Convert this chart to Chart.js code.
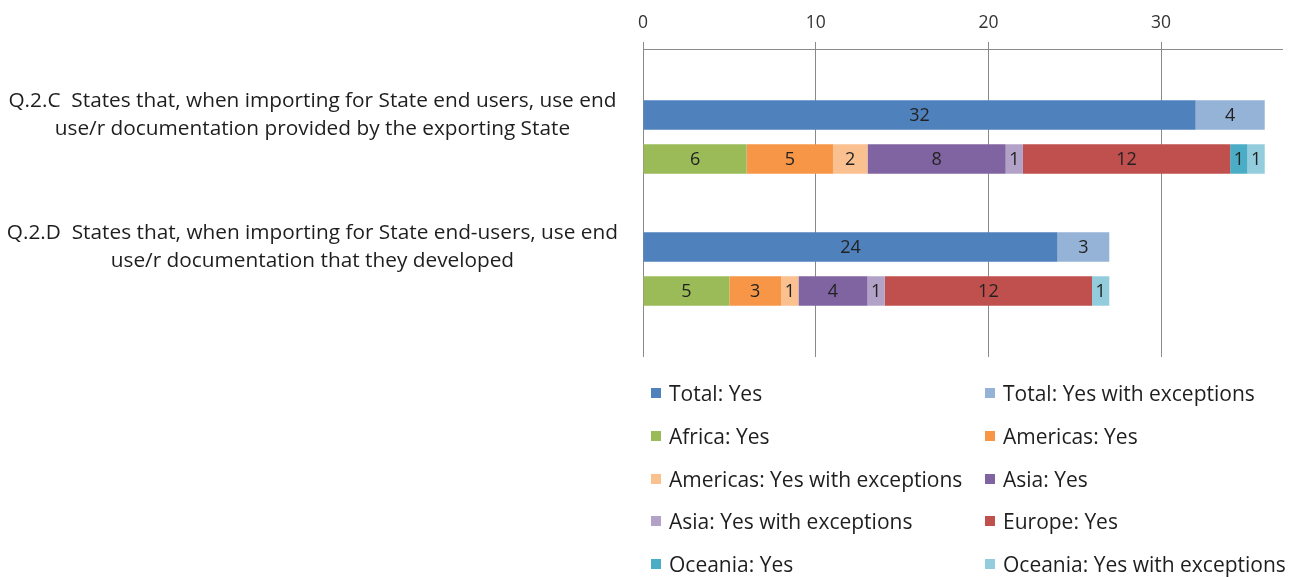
<!DOCTYPE html>
<html>
<head>
<meta charset="utf-8">
<script src="https://cdn.jsdelivr.net/npm/chart.js@4.4.1/dist/chart.umd.min.js"></script>
<style>
  html, body { margin: 0; padding: 0; background: #fff; }
  #wrap { position: relative; width: 1304px; height: 577px; overflow: hidden; }
  #chart { position: absolute; left: 0; top: 0; }
  #legend {
    position: absolute; left: 651px; top: 372px;
    display: grid; grid-template-columns: 334px 320px; grid-auto-rows: 42.7px;
    font-family: "Open Sans", sans-serif; font-size: 21px; color: #1e1e1e;
  }
  .legend-item { display: flex; align-items: center; white-space: nowrap; }
  .legend-box { width: 10px; height: 10px; margin-right: 8px; flex: none; }
</style>
</head>
<body>
<div id="wrap">
  <canvas id="chart" width="1304" height="577"></canvas>
  <div id="legend"></div>
</div>
<script>
// Questions shown on the left
const questions = [
  ['Q.2.C  States that, when importing for State end users, use end', 'use/r documentation provided by the exporting State'],
  ['Q.2.D  States that, when importing for State end-users, use end', 'use/r documentation that they developed']
];

// Totals (one value per question)
const totalYes = [32, 24];
const totalYesExc = [4, 3];

// Regional breakdown (one value per question)
const africaYes = [6, 5];
const americasYes = [5, 3];
const americasYesExc = [2, 1];
const asiaYes = [8, 4];
const asiaYesExc = [1, 1];
const europeYes = [12, 12];
const oceaniaYes = [1, 0];
const oceaniaYesExc = [1, 1];

const xTicks = [0, 10, 20, 30];
const xMax = 37;

// Each question takes three rows: totals bar, regions bar, spacer.
// The first row is an empty spacer too.
const rowLabels = ['', questions[0], '', '', questions[1], '', ''];
function totalRow(values) { return [null, values[0], null, null, values[1], null, null]; }
function regionRow(values) { return [null, null, values[0], null, null, values[1], null]; }

function series(label, color, data) {
  return { label, data, backgroundColor: color, borderWidth: 0, stack: 'all',
    barPercentage: 0.67, categoryPercentage: 1 };
}

const datasets = [
  series('Total: Yes', '#4f81bd', totalRow(totalYes)),
  series('Total: Yes with exceptions', '#95b3d7', totalRow(totalYesExc)),
  series('Africa: Yes', '#9bbb59', regionRow(africaYes)),
  series('Americas: Yes', '#f79646', regionRow(americasYes)),
  series('Americas: Yes with exceptions', '#fac090', regionRow(americasYesExc)),
  series('Asia: Yes', '#8064a2', regionRow(asiaYes)),
  series('Asia: Yes with exceptions', '#b3a2c7', regionRow(asiaYesExc)),
  series('Europe: Yes', '#c0504d', regionRow(europeYes)),
  series('Oceania: Yes', '#4bacc6', regionRow(oceaniaYes)),
  series('Oceania: Yes with exceptions', '#93cddd', regionRow(oceaniaYesExc))
];

// Value printed in the middle of each segment
const segmentValues = {
  id: 'segmentValues',
  afterDatasetsDraw(chart) {
    const ctx = chart.ctx;
    ctx.save();
    ctx.font = '18px "Open Sans"';
    ctx.fillStyle = '#222';
    ctx.textAlign = 'center';
    ctx.textBaseline = 'middle';
    chart.data.datasets.forEach((ds, i) => {
      chart.getDatasetMeta(i).data.forEach((bar, j) => {
        const v = ds.data[j];
        if (!v) return;
        const p = bar.getProps(['x', 'y', 'base'], true);
        ctx.fillText(String(v), (p.x + p.base) / 2, p.y + 1);
      });
    });
    ctx.restore();
  }
};

const chart = new Chart(document.getElementById('chart'), {
  type: 'bar',
  data: { labels: rowLabels, datasets },
  options: {
    indexAxis: 'y',
    responsive: false,
    animation: false,
    layout: { padding: { left: 0, right: 22, top: 0, bottom: 220 } },
    plugins: { legend: { display: false }, tooltip: { enabled: false } },
    scales: {
      x: {
        position: 'top',
        stacked: true,
        min: 0,
        max: xMax,
        afterBuildTicks(scale) { scale.ticks = xTicks.map(v => ({ value: v })); },
        afterFit(scale) { scale.height = 49; },
        ticks: { color: '#333', font: { family: 'Open Sans', size: 17.5 }, padding: 8 },
        grid: { color: '#8a8a8a', lineWidth: 1, tickLength: 7 },
        border: { color: '#8a8a8a' }
      },
      y: {
        stacked: true,
        afterFit(scale) { scale.width = 643; },
        ticks: { color: '#1e1e1e', crossAlign: 'center', padding: 17, autoSkip: false,
          font: { family: 'Open Sans', size: 20.8, lineHeight: 1.36 } },
        grid: { display: false },
        border: { display: false }
      }
    }
  },
  plugins: [segmentValues]
});

// Two-column legend built from the datasets
const legendEl = document.getElementById('legend');
chart.data.datasets.forEach(ds => {
  const item = document.createElement('div');
  item.className = 'legend-item';
  const box = document.createElement('span');
  box.className = 'legend-box';
  box.style.background = ds.backgroundColor;
  item.appendChild(box);
  item.appendChild(document.createTextNode(ds.label));
  legendEl.appendChild(item);
});
</script>
</body>
</html>
